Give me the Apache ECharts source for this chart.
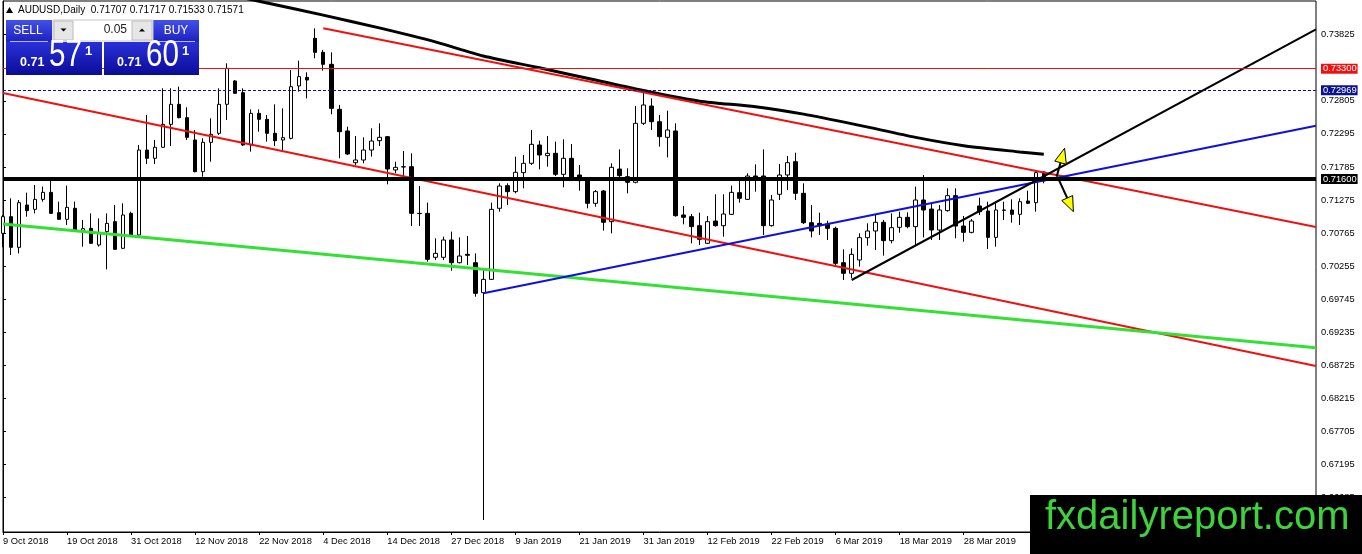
<!DOCTYPE html>
<html><head><meta charset="utf-8">
<script src="https://cdn.jsdelivr.net/npm/echarts@6/dist/echarts.min.js"></script>
<style>html,body{margin:0;padding:0;background:#fff;overflow:hidden}#c{width:1362px;height:554px}</style>
</head><body><div id="c"></div>
<script>
// ---- data (AUDUSD daily) ----
const opens = [0.70761,0.71018,0.70545,0.71198,0.71131,0.71285,0.71393,0.71080,0.70977,0.71147,
0.70802,0.70838,0.70581,0.70787,0.70941,0.70530,0.71069,0.70735,0.72046,0.71918,
0.72088,0.72442,0.72751,0.72545,0.72201,0.71712,0.72165,0.72304,0.72751,0.73111,
0.72931,0.72124,0.72612,0.72520,0.72304,0.72201,0.72226,0.73034,0.73167,0.73769,
0.73553,0.73368,0.72674,0.72340,0.71851,0.71892,0.72046,0.72190,0.72252,0.71738,
0.71784,0.71789,0.71069,0.71069,0.70391,0.70391,0.70658,0.70308,0.70437,0.70308,
0.69846,0.70051,0.71147,0.71496,0.71404,0.71697,0.71841,0.72124,0.71959,0.71995,
0.71671,0.71918,0.71661,0.71584,0.71224,0.71414,0.70941,0.71753,0.71635,0.71548,
0.72458,0.72725,0.72483,0.72242,0.72340,0.71044,0.71018,0.70879,0.70607,0.70951,
0.70879,0.71054,0.71388,0.71285,0.71645,0.71645,0.70879,0.71363,0.71661,0.71866,
0.71378,0.70925,0.70915,0.70905,0.70838,0.70308,0.70144,0.70350,0.70694,0.70797,
0.70931,0.70648,0.70854,0.71008,0.70864,0.71275,0.71136,0.70812,0.71111,0.71342,
0.70874,0.70776,0.71183,0.71105,0.70699,0.71121,0.71121,0.71054,0.71260,0.71234,
0.71707];
const closes = [0.71018,0.70545,0.71234,0.71111,0.71285,0.71393,0.71069,0.70977,0.71162,0.70812,
0.70833,0.70607,0.70761,0.70915,0.70514,0.71044,0.70735,0.72046,0.71918,0.72088,
0.72442,0.72751,0.72545,0.72242,0.71712,0.72165,0.72288,0.72751,0.73306,0.72921,
0.72124,0.72612,0.72520,0.72304,0.72190,0.72237,0.73023,0.73178,0.73126,0.73553,
0.73368,0.72689,0.72329,0.71985,0.71892,0.72046,0.72185,0.72242,0.71753,0.71779,
0.71789,0.71069,0.71065,0.70360,0.70452,0.70658,0.70308,0.70411,0.70422,0.69835,
0.70051,0.71131,0.71491,0.71404,0.71702,0.71841,0.72134,0.71969,0.71995,0.71671,
0.71918,0.71609,0.71573,0.71224,0.71404,0.70931,0.71779,0.71650,0.71548,0.72458,
0.72741,0.72483,0.72252,0.72355,0.71033,0.71008,0.70864,0.70668,0.70941,0.70879,
0.71059,0.71393,0.71301,0.71645,0.71620,0.70879,0.71275,0.71661,0.71851,0.71378,
0.70925,0.70797,0.70879,0.70838,0.70298,0.70144,0.70437,0.70694,0.70797,0.70931,
0.70648,0.70848,0.71008,0.70864,0.71275,0.71121,0.70812,0.71121,0.71342,0.70874,
0.70776,0.70951,0.71095,0.70699,0.71121,0.71116,0.71054,0.71249,0.71224,0.71697,
0.71571];
const lows = [0.70545,0.70427,0.70452,0.71018,0.71069,0.71249,0.71059,0.70967,0.70890,0.70802,
0.70555,0.70596,0.70555,0.70206,0.70504,0.70519,0.70710,0.70720,0.71831,0.71831,
0.72082,0.72108,0.72535,0.72201,0.71702,0.71635,0.71866,0.72278,0.72509,0.72910,
0.72108,0.72021,0.72329,0.72175,0.72108,0.72021,0.72211,0.72946,0.72843,0.73461,
0.73270,0.72597,0.71918,0.71969,0.71815,0.71841,0.71944,0.72108,0.71517,0.71687,
0.71635,0.70874,0.70874,0.70324,0.70350,0.70350,0.70185,0.70298,0.70272,0.69784,
0.66339,0.70041,0.71095,0.71198,0.71378,0.71455,0.71815,0.71748,0.71789,0.71645,
0.71471,0.71599,0.71419,0.71147,0.71172,0.70802,0.70761,0.71609,0.71378,0.71532,
0.72432,0.72355,0.72098,0.71933,0.71018,0.70900,0.70607,0.70581,0.70596,0.70864,
0.70709,0.71044,0.71234,0.71275,0.71404,0.70735,0.70864,0.71275,0.71429,0.71275,
0.70905,0.70699,0.70735,0.70658,0.70257,0.70041,0.70067,0.70247,0.70571,0.70504,
0.70416,0.70607,0.70771,0.70838,0.70566,0.70699,0.70658,0.70658,0.71095,0.70684,
0.70632,0.70761,0.71044,0.70519,0.70555,0.70967,0.70925,0.70889,0.71213,0.71095,
0.71533];
const highs = [0.71044,0.71301,0.71275,0.71388,0.71507,0.71481,0.71568,0.71249,0.71496,0.71249,
0.70967,0.71069,0.70992,0.71069,0.71198,0.71224,0.71095,0.72124,0.72586,0.72201,
0.72998,0.72998,0.73023,0.72705,0.72355,0.72226,0.72535,0.72998,0.73383,0.73126,
0.72998,0.72674,0.72674,0.72586,0.72751,0.72689,0.73281,0.73425,0.73245,0.73923,
0.73589,0.73553,0.72741,0.72406,0.72262,0.72242,0.72381,0.72458,0.72262,0.71866,
0.72031,0.71995,0.71491,0.71234,0.70684,0.70710,0.70787,0.70699,0.70720,0.70452,
0.70206,0.71234,0.71532,0.71532,0.71944,0.71969,0.72355,0.72190,0.72262,0.72175,
0.72211,0.72139,0.71815,0.71599,0.71429,0.71429,0.71841,0.72057,0.71764,0.72725,
0.72936,0.72843,0.72586,0.72653,0.72458,0.71183,0.71059,0.71080,0.71028,0.71363,
0.71363,0.71496,0.71573,0.71687,0.71825,0.72057,0.71352,0.71830,0.71954,0.72005,
0.71532,0.71198,0.71080,0.70956,0.70864,0.70514,0.70530,0.70761,0.70915,0.71044,
0.70967,0.71069,0.71095,0.71085,0.71481,0.71661,0.71213,0.71198,0.71455,0.71455,
0.71028,0.70982,0.71311,0.71249,0.71249,0.71249,0.71285,0.71301,0.71419,0.71738,
0.71717];
const tickLabels = ['9 Oct 2018','19 Oct 2018','31 Oct 2018','12 Nov 2018','22 Nov 2018','4 Dec 2018',
'14 Dec 2018','27 Dec 2018','9 Jan 2019','21 Jan 2019','31 Jan 2019','12 Feb 2019','22 Feb 2019',
'6 Mar 2019','18 Mar 2019','28 Mar 2019'];
const priceTicks = [0.73825,0.73315,0.72805,0.72295,0.71785,0.71275,0.70765,0.70255,0.69745,
0.69235,0.68725,0.68215,0.67705,0.67195,0.66685];
// moving average (thick black curve): bar index / value
const maIndex = [28,33,40,47,54,60,67,74,80,87,94,100,107,114,120,127,130];
const maValue = [0.74447,0.74314,0.74127,0.73930,0.73714,0.73497,0.73314,0.73125,0.72963,0.72799,
0.72714,0.72600,0.72426,0.72241,0.72113,0.72017,0.71982];
// trend lines: [startIndex, startPrice, endIndex, endPrice]
const upperRed = [40, 0.73924, 164, 0.70859];
const lowerRed = [0, 0.72926, 164, 0.68714];
const greenLine = [0, 0.70905, 164, 0.68997];
const blueLine = [60, 0.69836, 164, 0.72421];
const blackTrend = [106, 0.70041, 164, 0.73908];
// horizontal levels
const levels = [0.73300, 0.72969, 0.71600];
// arrows: [fromIndex, fromPrice, toIndex, toPrice]
const arrowUp = [131.6, 0.71635, 132.6, 0.72073];
const arrowDown = [131.8, 0.71610, 133.7, 0.71095];

const N_SLOTS = 165;
const Y_MIN = 0.661537, Y_MAX = 0.743449;
const FONT = "'Liberation Sans', Arial, sans-serif";

const cats = Array.from({length: N_SLOTS}, (_, i) => String(i));
const candle = opens.map((o, i) => [o, closes[i], lows[i], highs[i]]);
const seg = a => [[a[0], a[1]], [a[2], a[3]]];
const last = opens.length - 1;
const header = 'AUDUSD,Daily  ' + [opens[last], highs[last], lows[last], closes[last]].map(v => v.toFixed(5)).join(' ');

const chart = echarts.init(document.getElementById('c'), null, {renderer: 'canvas'});
const showTick = i => i % 8 === 0 && i / 8 < tickLabels.length;

const trend = (data, color, width) => ({
  type: 'line', xAxisIndex: 1, data: seg(data), symbol: 'none', silent: true, z: 3,
  lineStyle: {color, width}, animation: false
});

const blueGrad = (a, b) => ({type: 'linear', x: 0, y: 0, x2: 0, y2: 1,
  colorStops: [{offset: 0, color: a}, {offset: 1, color: b}]});

const txt = (x, y, text, size, opts = {}) => Object.assign({
  type: 'text', x, y, z: 101,
  style: Object.assign({text, x: 0, y: 0, fill: '#fff', font: `${opts.bold ? 'bold ' : ''}${size}px ${FONT}`,
    textAlign: opts.align || 'left', textVerticalAlign: 'middle'}, opts.style || {})
}, opts.el || {});

chart.setOption({
  animation: false,
  backgroundColor: '#fff',
  grid: {left: 3, right: 46, top: 1, bottom: 22, show: true, borderColor: '#000', borderWidth: 1, backgroundColor: '#fff'},
  xAxis: [{
    type: 'category', data: cats, boundaryGap: false,
    axisLine: {show: true, lineStyle: {color: '#000', width: 1}},
    axisTick: {show: true, length: 3, interval: (i) => showTick(i), lineStyle: {color: '#000'}},
    axisLabel: {show: true, interval: (i) => showTick(i), formatter: (v, i) => tickLabels[i / 8] || '',
      align: 'left', margin: 5, color: '#000', fontSize: 9.3, fontFamily: FONT},
    splitLine: {show: false}
  }, {
    type: 'value', min: 0, max: N_SLOTS - 1, show: false
  }],
  yAxis: {
    type: 'value', position: 'right', min: Y_MIN, max: Y_MAX, scale: true,
    axisLine: {show: true, lineStyle: {color: '#000', width: 1}},
    axisTick: {show: true, length: 3, customValues: priceTicks, lineStyle: {color: '#000'}},
    axisLabel: {show: true, customValues: priceTicks, formatter: v => v.toFixed(5), margin: 5,
      color: '#000', fontSize: 9.3, fontFamily: FONT},
    splitLine: {show: false}
  },
  series: [{
    type: 'candlestick', data: candle, barWidth: 4, z: 2,
    itemStyle: {color: '#fff', color0: '#000', borderColor: '#000', borderColor0: '#000', borderColorDoji: '#000', borderWidth: 1},
    markLine: {
      silent: true, symbol: ['none', 'none'], animation: false, precision: 5,
      label: {show: true, position: 'end', distance: 5, color: '#fff', fontSize: 9.3, fontFamily: FONT,
        padding: [1, 1, 0, 2], formatter: p => Number(p.value).toFixed(5)},
      data: [
        {yAxis: levels[0], lineStyle: {color: '#f01010', width: 1, type: 'solid'}, label: {backgroundColor: '#f01010'}},
        {yAxis: levels[1], lineStyle: {color: '#0b148c', width: 1, type: [3, 2]}, label: {backgroundColor: '#0b148c'}},
        {yAxis: levels[2], lineStyle: {color: '#000', width: 4, type: 'solid'}, label: {backgroundColor: '#000'}}
      ]
    }
  },
  {
    type: 'line', xAxisIndex: 1, data: maIndex.map((x, i) => [x, maValue[i]]), symbol: 'none', smooth: 0.25,
    silent: true, z: 3, lineStyle: {color: '#000', width: 3}
  },
  trend(upperRed, '#f01010', 2),
  trend(lowerRed, '#f01010', 2),
  trend(greenLine, '#33e033', 3),
  trend(blueLine, '#1010dc', 2),
  trend(blackTrend, '#000', 2),
  {
    type: 'custom', xAxisIndex: 1, z: 4, silent: true,
    data: [arrowUp, arrowDown],
    encode: {x: [0, 2], y: [1, 3]},
    renderItem: (params, api) => {
      const s = api.coord([api.value(0), api.value(1)]);
      const t = api.coord([api.value(2), api.value(3)]);
      const dx = t[0] - s[0], dy = t[1] - s[1], len = Math.hypot(dx, dy) || 1;
      const ux = dx / len, uy = dy / len, hl = 15, hw = 6;
      const bx = t[0] - ux * hl, by = t[1] - uy * hl;
      return {type: 'group', children: [
        {type: 'line', shape: {x1: s[0], y1: s[1], x2: bx, y2: by}, style: {stroke: '#000', lineWidth: 2}},
        {type: 'polygon', shape: {points: [[t[0], t[1]], [bx - uy * hw, by + ux * hw], [bx + uy * hw, by - ux * hw]]},
          style: {fill: '#ffff00', stroke: '#000', lineWidth: 1}}
      ]};
    }
  }],
  graphic: [
    // header
    {type: 'polygon', z: 100, shape: {points: [[6, 13], [13, 13], [9.5, 7]]}, style: {fill: '#000'}},
    txt(18, 10, header, 10, {style: {fill: '#000'}}),
    // one-click trading panel
    {type: 'rect', z: 100, shape: {x: 6, y: 20, width: 46, height: 22}, style: {fill: blueGrad('#4250e8', '#1c20c0')}},
    {type: 'rect', z: 100, shape: {x: 153, y: 20, width: 46, height: 22}, style: {fill: blueGrad('#4250e8', '#1c20c0')}},
    {type: 'rect', z: 100, shape: {x: 6, y: 42, width: 96, height: 33}, style: {fill: blueGrad('#2a30d8', '#0a0c98')}},
    {type: 'rect', z: 100, shape: {x: 104, y: 42, width: 95, height: 33}, style: {fill: blueGrad('#2a30d8', '#0a0c98')}},
    {type: 'line', z: 101, shape: {x1: 10, y1: 41.5, x2: 48, y2: 41.5}, style: {stroke: 'rgba(220,225,255,0.8)', lineWidth: 1}},
    {type: 'line', z: 101, shape: {x1: 157, y1: 41.5, x2: 195, y2: 41.5}, style: {stroke: 'rgba(220,225,255,0.8)', lineWidth: 1}},
    {type: 'rect', z: 100, shape: {x: 53, y: 20, width: 100, height: 21}, style: {fill: '#fff', stroke: '#c8c8c8', lineWidth: 1}},
    {type: 'rect', z: 101, shape: {x: 54, y: 21, width: 19, height: 19}, style: {fill: '#e6e6e6', stroke: '#bdbdbd', lineWidth: 1}},
    {type: 'rect', z: 101, shape: {x: 132, y: 21, width: 20, height: 19}, style: {fill: '#e6e6e6', stroke: '#bdbdbd', lineWidth: 1}},
    {type: 'polygon', z: 102, shape: {points: [[60.5, 28.5], [66.5, 28.5], [63.5, 31.5]]}, style: {fill: '#000'}},
    {type: 'polygon', z: 102, shape: {points: [[139, 31.5], [145, 31.5], [142, 28.5]]}, style: {fill: '#000'}},
    txt(127, 30, '0.05', 12, {align: 'right', style: {fill: '#222'}}),
    txt(28, 31, 'SELL', 12, {align: 'center'}),
    txt(176, 31, 'BUY', 12, {align: 'center'}),
    txt(20, 63, '0.71', 12.5, {bold: true}),
    txt(49, 56, '57', 37, {el: {scaleX: 0.8}}),
    txt(85, 51, '1', 13, {bold: true}),
    txt(117, 63, '0.71', 12.5, {bold: true}),
    txt(146, 56, '60', 37, {el: {scaleX: 0.8}}),
    txt(182, 51, '1', 13, {bold: true}),
    // watermark
    {type: 'rect', z: 110, shape: {x: 1030, y: 495, width: 332, height: 59}, style: {fill: '#000'}},
    {type: 'text', z: 111, x: 1045, y: 518, style: {text: 'fxdailyreport.com', x: 0, y: 0, fill: '#3fd23f',
      font: `40px ${FONT}`, textAlign: 'left', textVerticalAlign: 'middle'}}
  ]
});
</script></body></html>
